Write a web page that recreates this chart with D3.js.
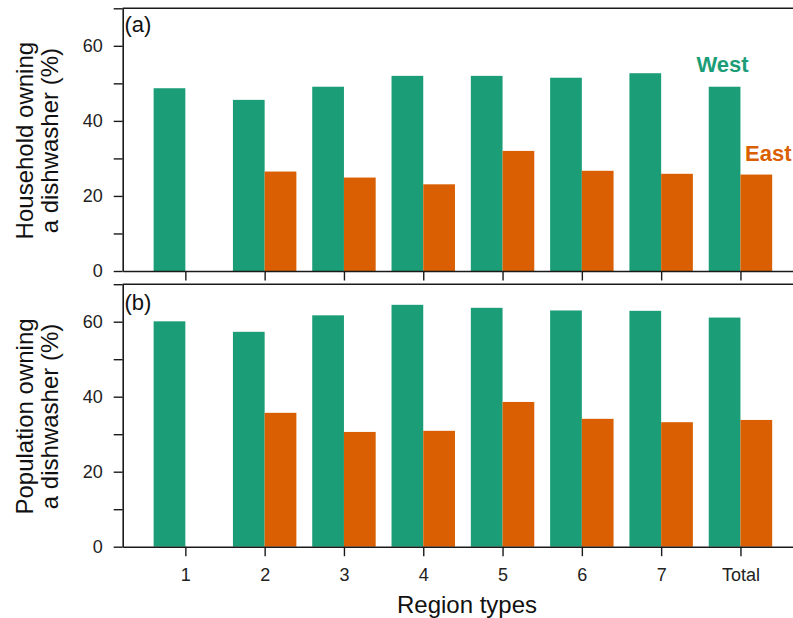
<!DOCTYPE html>
<html>
<head>
<meta charset="utf-8">
<script src="https://cdn.jsdelivr.net/npm/d3@7"></script>
<style>
  html, body { margin: 0; padding: 0; background: #fff; overflow: hidden; }
  svg { display: block; font-family: "Liberation Sans", Arial, sans-serif; }
</style>
</head>
<body>
<svg id="chart" width="793" height="618"></svg>
<script>
const categories = ["1", "2", "3", "4", "5", "6", "7", "Total"];
const householdWest = [48.7, 45.6, 49.1, 52.0, 52.0, 51.5, 52.7, 49.1];
const householdEast = [null, 26.5, 24.9, 23.1, 32.0, 26.7, 25.9, 25.7];
const populationWest = [60.1, 57.3, 61.7, 64.5, 63.7, 63.0, 62.9, 61.1];
const populationEast = [null, 35.7, 30.6, 30.9, 38.6, 34.1, 33.2, 33.8];
const yTickValues = [0, 10, 20, 30, 40, 50, 60, 70];
const yLabelValues = [0, 20, 40, 60];
const seriesNames = ["West", "East"];
const seriesColors = ["#1b9e77", "#d95f02"];

const svg = d3.select("#chart");
const left = 122.7, right = 803.1;
const x = d3.scaleLinear().domain([0.21, 8.79]).range([left, right]);
const barW = x(0.4) - x(0);
const axisColor = "#1a1a1a";

const panels = [
  { top: 8.3, bottom: 271, west: householdWest, east: householdEast, tag: "(a)", tagY: 32,
    label: ["Household owning", "a dishwasher (%)"], showX: false },
  { top: 284.2, bottom: 546.7, west: populationWest, east: populationEast, tag: "(b)", tagY: 310,
    label: ["Population owning", "a dishwasher (%)"], showX: true }
];

panels.forEach((p, pi) => {
  const y = d3.scaleLinear().domain([0, 70]).range([p.bottom, p.top]);
  const g = svg.append("g");

  // bars
  const rows = categories.map((c, i) => ({ i: i + 1, w: p.west[i], e: p.east[i] }));
  g.selectAll("rect.west").data(rows.filter(d => d.w != null)).join("rect")
    .attr("x", d => x(d.i) - barW).attr("width", barW)
    .attr("y", d => y(d.w)).attr("height", d => y(0) - y(d.w))
    .attr("fill", seriesColors[0]);
  g.selectAll("rect.east").data(rows.filter(d => d.e != null)).join("rect")
    .attr("x", d => x(d.i)).attr("width", barW)
    .attr("y", d => y(d.e)).attr("height", d => y(0) - y(d.e))
    .attr("fill", seriesColors[1]);

  // y axis
  const ya = g.append("g").attr("transform", `translate(${left},0)`)
    .call(d3.axisLeft(y).tickValues(yTickValues).tickSize(9).tickSizeOuter(0).tickPadding(11)
      .tickFormat(v => yLabelValues.includes(v) ? v : ""));
  ya.select(".domain").attr("stroke", axisColor).attr("stroke-width", 1.6);
  ya.selectAll(".tick line").attr("stroke", axisColor).attr("stroke-width", 1.4);
  ya.selectAll(".tick text").attr("font-size", 18).attr("fill", "#222")
    .attr("font-family", "Liberation Sans, Arial, sans-serif");

  // x axis
  const xa = g.append("g").attr("transform", `translate(0,${p.bottom})`)
    .call(d3.axisBottom(x).tickValues(d3.range(1, categories.length + 1)).tickSize(9.5)
      .tickSizeOuter(0).tickPadding(12)
      .tickFormat(v => p.showX ? categories[v - 1] : ""));
  xa.select(".domain").attr("stroke", axisColor).attr("stroke-width", 1.6);
  xa.selectAll(".tick line").attr("stroke", axisColor).attr("stroke-width", 1.4);
  xa.selectAll(".tick text").attr("font-size", 18).attr("fill", "#222")
    .attr("font-family", "Liberation Sans, Arial, sans-serif");

  // top spine
  g.append("line").attr("x1", left).attr("x2", right)
    .attr("y1", p.top).attr("y2", p.top)
    .attr("stroke", axisColor).attr("stroke-width", 1.6);

  // panel tag
  g.append("text").attr("x", 124.5).attr("y", p.tagY)
    .attr("font-size", 22).attr("fill", "#111").text(p.tag);

  // y label
  const cy = (p.top + p.bottom) / 2 + 1;
  const lab = g.append("text")
    .attr("transform", `translate(33.3,${cy}) rotate(-90)`)
    .attr("text-anchor", "middle").attr("font-size", 24).attr("fill", "#111");
  lab.append("tspan").attr("x", 0).attr("dy", 0).text(p.label[0]);
  lab.append("tspan").attr("x", 0).attr("dy", 25).text(p.label[1]);
});

// legend labels in panel a
svg.append("text").attr("x", 696.5).attr("y", 72.3)
  .attr("font-size", 22).attr("font-weight", "bold").attr("fill", seriesColors[0]).text(seriesNames[0]);
svg.append("text").attr("x", 745).attr("y", 160.5)
  .attr("font-size", 22).attr("font-weight", "bold").attr("fill", seriesColors[1]).text(seriesNames[1]);

// x axis title
svg.append("text").attr("x", 467).attr("y", 613)
  .attr("text-anchor", "middle").attr("font-size", 24).attr("fill", "#111").text("Region types");
</script>
</body>
</html>
